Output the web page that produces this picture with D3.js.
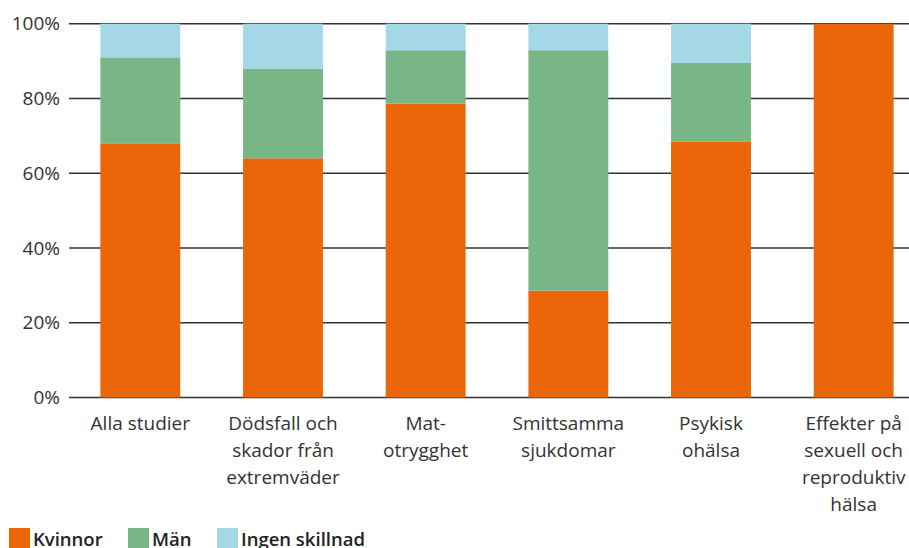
<!DOCTYPE html>
<html>
<head>
<meta charset="utf-8">
<script src="https://cdn.jsdelivr.net/npm/d3@7"></script>
<style>
  body { margin: 0; background: #fff; }
  svg { display: block; font-family: "Open Sans", Lato, sans-serif; }
</style>
</head>
<body>
<svg id="chart" width="909" height="548"></svg>
<script>
const categories = [
  ["Alla studier"],
  ["Dödsfall och", "skador från", "extremväder"],
  ["Mat-", "otrygghet"],
  ["Smittsamma", "sjukdomar"],
  ["Psykisk", "ohälsa"],
  ["Effekter på", "sexuell och", "reproduktiv", "hälsa"]
];
const kvinnor = [68, 64, 78.6, 28.6, 68.4, 100];
const man = [23, 24, 14.3, 64.3, 21.1, 0];
const ingen = [9, 12, 7.1, 7.1, 10.5, 0];
const seriesNames = ["Kvinnor", "Män", "Ingen skillnad"];
const colors = ["#eb6608", "#78b587", "#a5d8e6"];
const yTicks = [0, 20, 40, 60, 80, 100];

const svg = d3.select("#chart");
const margin = { left: 69, right: -16, top: 23.7, bottom: 150.5 };
const width = 909, height = 548;

const rows = categories.map((c, i) => ({
  key: i, Kvinnor: kvinnor[i], "Män": man[i], "Ingen skillnad": ingen[i]
}));
const stack = d3.stack().keys(seriesNames)(rows);

const x = d3.scaleBand()
  .domain(d3.range(categories.length))
  .range([margin.left, width - margin.right])
  .paddingInner(0.44)
  .paddingOuter(0.22);

const y = d3.scaleLinear()
  .domain([0, 100])
  .range([height - margin.bottom, margin.top]);

// gridlines
svg.append("g")
  .selectAll("line")
  .data(yTicks)
  .join("line")
  .attr("x1", margin.left)
  .attr("x2", width)
  .attr("y1", d => y(d))
  .attr("y2", d => y(d))
  .attr("stroke", "#333")
  .attr("stroke-width", 1.5);

// y labels
svg.append("g")
  .selectAll("text")
  .data(yTicks)
  .join("text")
  .attr("x", 60)
  .attr("y", d => y(d))
  .attr("dy", "0.35em")
  .attr("text-anchor", "end")
  .attr("fill", "#333")
  .style("font-size", "19px")
  .text(d => d + "%");

// bars
svg.append("g")
  .selectAll("g")
  .data(stack)
  .join("g")
  .attr("fill", (d, i) => colors[i])
  .selectAll("rect")
  .data(d => d)
  .join("rect")
  .attr("x", d => x(d.data.key))
  .attr("width", x.bandwidth())
  .attr("y", d => y(d[1]))
  .attr("height", d => y(d[0]) - y(d[1]));

// category labels
const lab = svg.append("g")
  .selectAll("text")
  .data(categories)
  .join("text")
  .attr("x", (d, i) => x(i) + x.bandwidth() / 2)
  .attr("y", 430)
  .attr("text-anchor", "middle")
  .attr("fill", "#333")
  .style("font-size", "19px");
lab.selectAll("tspan")
  .data(d => d)
  .join("tspan")
  .attr("x", function() { return this.parentNode.getAttribute("x"); })
  .attr("dy", (d, i) => i === 0 ? 0 : 27)
  .text(d => d);

// legend
const legendX = [9, 128, 217];
const legend = svg.append("g")
  .selectAll("g")
  .data(seriesNames)
  .join("g")
  .attr("transform", (d, i) => `translate(${legendX[i]}, 528)`);
legend.append("rect")
  .attr("width", 21)
  .attr("height", 21)
  .attr("fill", (d, i) => colors[i]);
legend.append("text")
  .attr("x", 24)
  .attr("y", 18)
  .attr("fill", "#222")
  .style("font-size", "18.5px")
  .style("font-weight", "600")
  .text(d => d);
</script>
</body>
</html>
